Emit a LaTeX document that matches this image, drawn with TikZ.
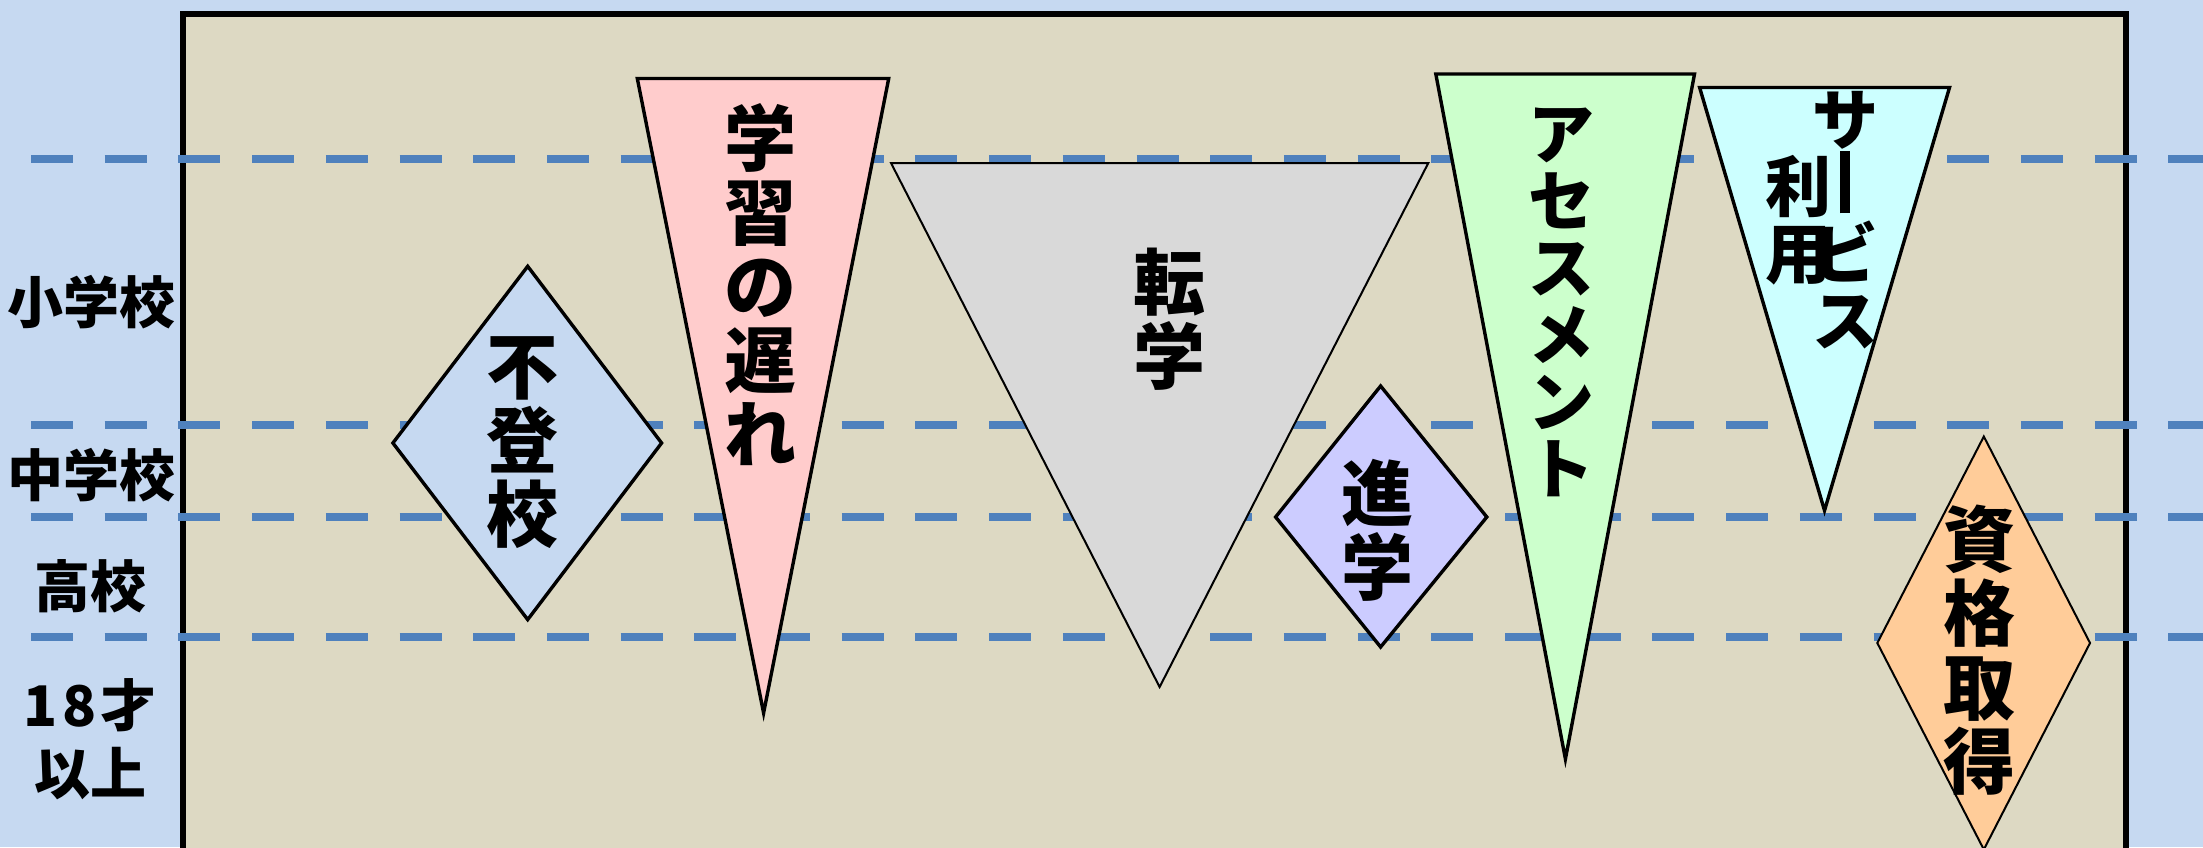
\documentclass[tikz,border=0pt]{standalone}
\usepackage{fontspec}
\setmainfont{Noto Sans CJK JP}
\definecolor{bgblue}{HTML}{C6D9F1}
\definecolor{frametan}{HTML}{DDD9C3}
\definecolor{dashblue}{HTML}{4F81BD}
\definecolor{fpink}{HTML}{FFCCCC}
\definecolor{fgray}{HTML}{D9D9D9}
\definecolor{fviolet}{HTML}{CCCCFF}
\definecolor{fgreen}{HTML}{CCFFCC}
\definecolor{fcyan}{HTML}{CCFFFF}
\definecolor{forange}{HTML}{FFCC99}
\newcommand{\vbar}{\hbox to 1em{\hss\rule[-1pt]{5pt}{31pt}\hss}}
\tikzset{
  bigtxt/.style={font=\fontsize{36}{37}\selectfont\bfseries, align=center, inner sep=0pt},
  kanatxt/.style={font=\fontsize{33}{33.5}\selectfont\bfseries, align=center, inner sep=0pt},
  sidetxt/.style={font=\fontsize{28}{30}\selectfont\bfseries, inner sep=0pt},
  levelline/.style={draw=dashblue, line width=4pt, dash pattern=on 21pt off 15.85pt},
  shapethick/.style={draw=black, line width=1.7pt, line join=miter},
  shapethin/.style={draw=black, line width=1pt, line join=miter},
}
\begin{document}
\begin{tikzpicture}[x=0.5pt,y=-0.5pt]
\useasboundingbox (0,0) rectangle (2203,847);
\clip (0,0) rectangle (2203,847);
\fill[bgblue] (0,0) rectangle (2203,847);
% frame
\draw[fill=frametan, draw=black, line width=3pt] (183,14) rectangle (2126,860);
% level lines
\foreach \yy in {159,425,517,637}{
  \draw[levelline] (31,\yy) -- (2203,\yy);
}
% side labels
\node[sidetxt] (l1) at (91,302) {小学校};
\node[sidetxt] (l2) at (91,475) {中学校};
\node[sidetxt] (l3) at (90,586) {高校};
\node[sidetxt] (l4) at (90,705) {1\kern2.5pt 8\kern2pt 才};
\node[sidetxt] (l5) at (90,774) {以上};
% shapes
\draw[shapethick, fill=bgblue] (527.7,266.3) -- (661.6,443) -- (527.7,619.6) -- (392.9,443) -- cycle;
\draw[shapethick, fill=fpink] (637.3,78.5) -- (888.7,78.5) -- (763.6,713) -- cycle;
\draw[shapethin, fill=fgray] (891,163) -- (1428.3,163) -- (1159.6,687) -- cycle;
\draw[shapethick, fill=fviolet] (1380.6,386) -- (1486.8,517) -- (1380.6,647) -- (1275.6,517) -- cycle;
\draw[shapethick, fill=fgreen] (1435.8,74) -- (1694.5,74) -- (1565.4,759) -- cycle;
\draw[shapethick, fill=fcyan] (1699.6,87.5) -- (1949.5,87.5) -- (1824.5,510.5) -- cycle;
\draw[shapethin, fill=forange] (1983.8,436.5) -- (2090,643) -- (1983.8,849.5) -- (1877.3,643) -- cycle;
% texts
\node[bigtxt] (t1) at (522,443) {不\\登\\校};
\node[bigtxt] (t2) at (760,285) {学\\習\\の\\遅\\れ};
\node[bigtxt] (t3) at (1169,319) {転\\学};
\node[bigtxt] (t4) at (1377,530) {進\\学};
\node[kanatxt] (t5) at (1561,302) {ア\\セ\\ス\\メ\\ン\\ト};
\node[kanatxt] (t6) at (1845,220) {サ\\\vbar\\ビ\\ス};
\node[kanatxt] (t7) at (1798,220) {利\\用};
\node[bigtxt] (t8) at (1979,650) {資\\格\\取\\得};
\end{tikzpicture}
\end{document}
